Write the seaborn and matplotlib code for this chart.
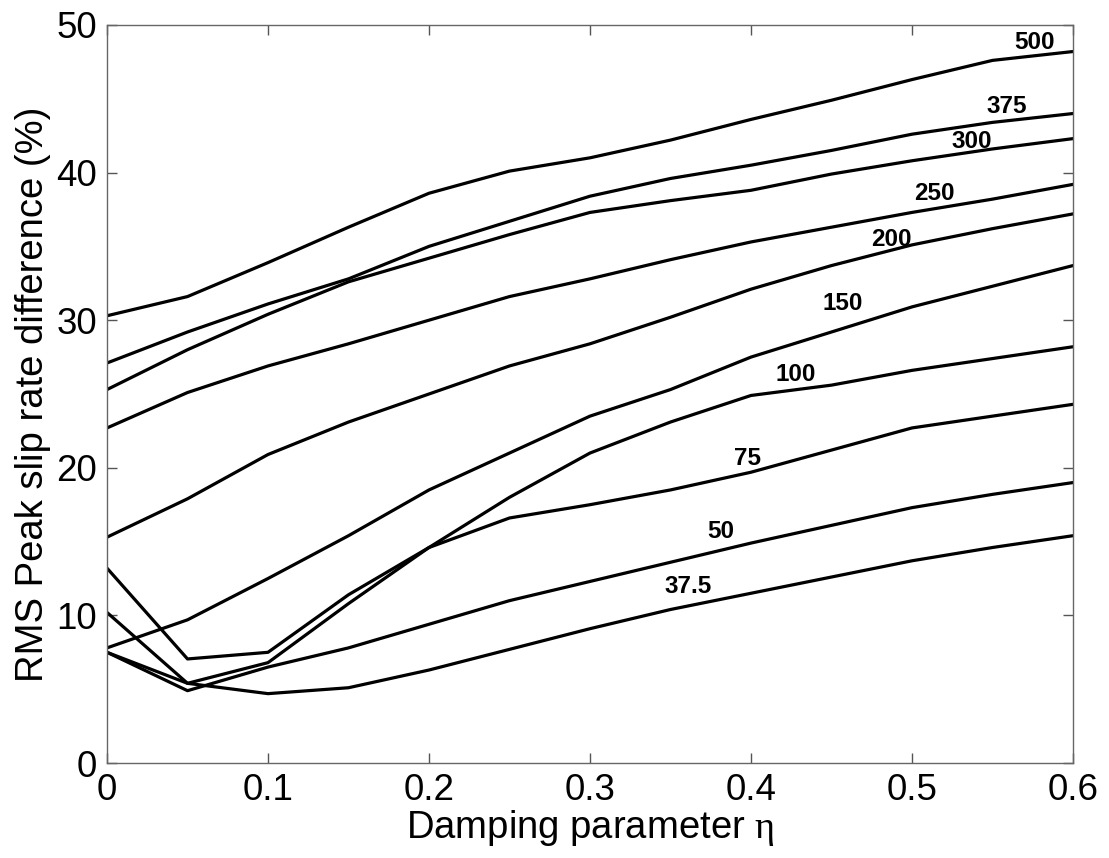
import numpy as np
import pandas as pd
import matplotlib
matplotlib.use("Agg")
import matplotlib.pyplot as plt
import seaborn as sns

# Damping parameter values
eta = [0.0, 0.05, 0.1, 0.15, 0.2, 0.25, 0.3, 0.35, 0.4, 0.45, 0.5, 0.55, 0.6]

# RMS peak slip-rate difference (%) for each curve
rms_500 = [30.3, 31.6, 33.9, 36.3, 38.6, 40.1, 41.0, 42.2, 43.6, 44.9, 46.3, 47.6, 48.2]
rms_375 = [27.1, 29.2, 31.1, 32.8, 35.0, 36.7, 38.4, 39.6, 40.5, 41.5, 42.6, 43.4, 44.0]
rms_300 = [25.3, 28.0, 30.4, 32.6, 34.2, 35.8, 37.3, 38.1, 38.8, 39.9, 40.8, 41.6, 42.3]
rms_250 = [22.7, 25.1, 26.9, 28.4, 30.0, 31.6, 32.8, 34.1, 35.3, 36.3, 37.3, 38.2, 39.2]
rms_200 = [15.3, 17.9, 20.9, 23.1, 25.0, 26.9, 28.4, 30.2, 32.1, 33.7, 35.1, 36.2, 37.2]
rms_150 = [7.8, 9.7, 12.5, 15.4, 18.5, 21.0, 23.5, 25.3, 27.5, 29.2, 30.9, 32.3, 33.7]
rms_100 = [13.2, 7.05, 7.5, 11.4, 14.6, 18.0, 21.0, 23.1, 24.9, 25.6, 26.6, 27.4, 28.2]
rms_75 = [10.2, 5.4, 6.8, 10.8, 14.6, 16.6, 17.5, 18.5, 19.7, 21.2, 22.7, 23.5, 24.3]
rms_50 = [7.5, 4.9, 6.5, 7.8, 9.4, 11.0, 12.3, 13.6, 14.9, 16.1, 17.3, 18.2, 19.0]
rms_37_5 = [7.5, 5.4, 4.7, 5.1, 6.3, 7.7, 9.1, 10.4, 11.5, 12.6, 13.7, 14.6, 15.4]

curve_names = ["500", "375", "300", "250", "200", "150", "100", "75", "50", "37.5"]
curve_values = [rms_500, rms_375, rms_300, rms_250, rms_200,
                rms_150, rms_100, rms_75, rms_50, rms_37_5]

# Inline curve labels (x, y in data units)
label_x = [0.576, 0.559, 0.537, 0.514, 0.487, 0.457, 0.428, 0.398, 0.381, 0.361]
label_y = [48.8, 44.5, 42.1, 38.6, 35.5, 31.1, 26.3, 20.6, 15.7, 11.95]

x_ticks = [0, 0.1, 0.2, 0.3, 0.4, 0.5, 0.6]
x_tick_labels = ["0", "0.1", "0.2", "0.3", "0.4", "0.5", "0.6"]
y_ticks = [0, 10, 20, 30, 40, 50]

df = pd.DataFrame({
    "eta": np.tile(eta, len(curve_names)),
    "rms": np.concatenate(curve_values),
    "curve": np.repeat(curve_names, len(eta)),
})

sns.set_style("ticks")
plt.rcParams["font.family"] = ["Liberation Sans", "DejaVu Sans"]
plt.rcParams["text.color"] = "black"
plt.rcParams["axes.labelcolor"] = "black"
plt.rcParams["xtick.labelcolor"] = "black"
plt.rcParams["ytick.labelcolor"] = "black"
plt.rcParams["mathtext.fontset"] = "custom"
plt.rcParams["mathtext.rm"] = "Liberation Serif"

fig = plt.figure(figsize=(11.09, 8.58), dpi=100)
ax = fig.add_axes([0.0965, 0.1107, 0.871, 0.8602])

sns.lineplot(data=df, x="eta", y="rms", hue="curve", hue_order=curve_names,
             palette=["black"] * len(curve_names), linewidth=2.3,
             legend=False, sort=False, ax=ax)

for name, lx, ly in zip(curve_names, label_x, label_y):
    ax.text(lx, ly, name, fontsize=17.5, fontweight="bold",
            ha="center", va="center", color="black")

ax.set_xlim(0, 0.6)
ax.set_ylim(0, 50)
ax.set_xticks(x_ticks)
ax.set_xticklabels(x_tick_labels)
ax.set_yticks(y_ticks)
ax.tick_params(direction="in", length=7, width=1, color="#555555",
               labelsize=26.5, top=True, right=True, pad=7)
for sp in ax.spines.values():
    sp.set_color("#666666")
    sp.set_linewidth(1.0)

ax.set_xlabel(r"Damping parameter $\mathrm{\eta}$", fontsize=27.5, labelpad=0)
ax.set_ylabel("RMS Peak slip rate difference (%)", fontsize=27.5, labelpad=4)

fig.savefig("out.png", dpi=100)
